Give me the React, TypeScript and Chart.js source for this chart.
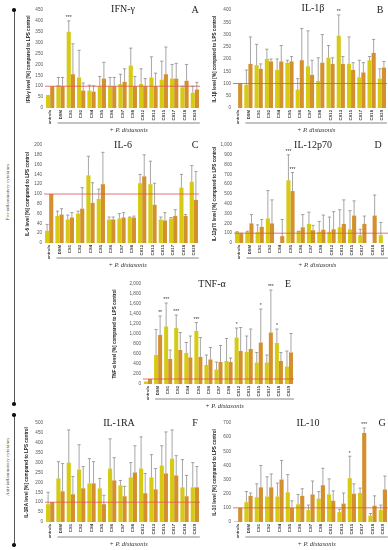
import React, { useEffect, useRef } from 'react';
import { Chart, registerables } from 'chart.js';

Chart.register(...registerables);

const CATEGORIES = ['Controls', 'DSM', 'CS1', 'CS2', 'CS4', 'CS5', 'CS6', 'CS7', 'CS8', 'CS12', 'CS13', 'CS15', 'CS17', 'CS18', 'CS20'];
const GROUP_LABEL = '+ P. distasonis';
const REF_LEVEL = 100;

// A: IFN-γ
const IFN_Y = [60, 105, 350, 140, 80, 100, 100, 110, 195, 110, 140, 130, 135, 95, 70];
const IFN_Y_ERR = [null, 140, 400, 265, 105, 145, 140, 155, 275, 180, 235, 215, 200, 100, 100];
const IFN_O = [100, 100, 155, 80, 75, 135, 100, 120, 100, 100, 100, 155, 135, 125, 85];
const IFN_O_ERR = [null, 140, 295, 115, 102, 210, 140, 180, 145, 135, 160, 280, 205, 200, 118];
const IFN_Y_STARS = ['', '', '***', '', '', '', '', '', '', '', '', '', '', '', ''];
const IFN_O_STARS = ['', '', '', '', '', '', '', '', '', '', '', '', '', '', ''];

// B: IL-1β
const IL1B_Y = [0, 95, 175, 200, 155, 185, 75, 170, 110, 205, 295, 180, 125, 195, 120];
const IL1B_Y_ERR = [null, 155, 260, 240, 200, 195, 120, 315, 205, 255, 380, 290, 195, 210, 160];
const IL1B_O = [100, 180, 160, 190, 190, 190, 195, 135, 185, 180, 180, 155, 145, 225, 165];
const IL1B_O_ERR = [null, 290, 180, 200, 255, 210, 325, 195, 300, 205, 210, 185, 185, 280, 190];
const IL1B_Y_STARS = ['', '', '', '', '', '', '', '', '', '', '**', '', '', '', ''];
const IL1B_O_STARS = ['', '', '', '', '', '', '', '', '', '', '', '', '', '', ''];

// C: IL-6
const IL6_Y = [25, 55, 48, 60, 138, 90, 48, 50, 52, 122, 120, 48, 50, 113, 125];
const IL6_Y_ERR = [38, 65, 57, 65, 177, 110, 53, 60, 53, 140, 167, 53, 52, 140, 158];
const IL6_O = [100, 58, 52, 70, 82, 120, 48, 52, 52, 136, 78, 46, 55, 55, 88];
const IL6_O_ERR = [null, 70, 62, 113, 123, 185, 53, 62, 55, 180, 122, 62, 68, 58, 146];
const IL6_Y_STARS = ['', '', '', '', '', '', '', '', '', '', '', '', '', '', ''];
const IL6_O_STARS = ['', '', '', '', '', '', '', '', '', '', '', '', '', '', ''];

// D: IL-12p70
const IL12_Y = [110, 110, 110, 250, 0, 640, 120, 195, 115, 115, 160, 140, 80, 0, 80];
const IL12_Y_ERR = [115, 120, 185, 535, null, 900, 120, 315, 220, 265, 340, 330, 140, null, 210];
const IL12_O = [95, 200, 165, 200, 70, 530, 160, 130, 135, 140, 195, 280, 195, 280, 0];
const IL12_O_ERR = [100, 290, 240, 440, 240, 720, 290, 180, 285, 320, 440, 430, 275, 490, null];
const IL12_Y_STARS = ['', '', '', '', '', '***', '', '', '', '', '', '', '', '', ''];
const IL12_O_STARS = ['', '', '', '', '', '***', '', '', '', '', '', '', '', '', ''];

// E: TNF-α
const TNF_Y = [50, 580, 1150, 1120, 620, 1060, 380, 290, 460, 930, 640, 430, 430, 820, 350];
const TNF_Y_ERR = [null, 1090, 1620, 1380, 830, 1230, 580, 440, 910, 1120, 960, 630, 580, 1100, 660];
const TNF_O = [100, 980, 500, 680, 530, 540, 490, 440, 440, 660, 700, 830, 1030, 460, 630];
const TNF_O_ERR = [null, 1360, 680, 1030, 960, 930, 730, 770, 520, 1130, 1100, 1500, 1880, 630, 1010];
const TNF_Y_STARS = ['', '', '***', '***', '', '***', '', '', '', '*', '', '', '', '*', ''];
const TNF_O_STARS = ['', '**', '', '', '', '', '', '', '', '', '', '*', '***', '', ''];

// F: IL-1RA
const IL1RA_Y = [90, 220, 300, 265, 195, 170, 270, 185, 225, 270, 225, 285, 320, 175, 175];
const IL1RA_Y_ERR = [150, 305, 465, 390, 320, 220, 420, 210, 300, 430, 340, 385, 465, 315, 300];
const IL1RA_O = [100, 155, 140, 170, 195, 90, 210, 130, 250, 145, 165, 245, 235, 130, 175];
const IL1RA_O_ERR = [null, 295, 230, 280, 305, 135, 325, 180, 385, 245, 270, 455, 335, 235, 280];
const IL1RA_Y_STARS = ['', '', '', '', '', '', '', '', '', '', '', '', '', '', ''];
const IL1RA_O_STARS = ['', '', '', '', '', '', '', '', '', '', '', '', '', '', ''];

// G: IL-10
const IL10_Y = [5, 140, 175, 180, 180, 210, 125, 85, 165, 195, 70, 310, 205, 45, 85];
const IL10_Y_ERR = [null, 215, 270, 320, 275, 335, 195, 120, 215, 305, 90, 465, 240, 60, 120];
const IL10_O = [100, 185, 245, 245, 300, 100, 185, 195, 260, 150, 130, 200, 630, 115, 230];
const IL10_O_ERR = [null, 205, 400, 340, 435, 150, 235, 290, 380, 220, 205, 270, 665, 185, 325];
const IL10_Y_STARS = ['', '', '', '', '', '', '', '', '', '', '', '*', '', '', ''];
const IL10_O_STARS = ['', '', '', '', '', '', '', '', '', '', '', '', '***', '', ''];

const YELLOW = '#d6ca14';
const ORANGE = '#d48f2e';
const ERR_COLOR = '#808080';
const REF_COLOR = '#e05050';
const XH = 16;

type Panel = {
  title: string; letter: string; yTitle: string; max: number; step: number;
  yellow: number[]; yellowErr: (number | null)[]; orange: number[]; orangeErr: (number | null)[];
  yellowStars: string[]; orangeStars: string[];
  box: { left: number; top: number; width: number; height: number };
  area: { left: number; top: number; right: number; bottom: number };
  titleAt: [number, number]; letterAt: [number, number];
};

const PANELS: Panel[] = [
  {
    title: 'IFN-γ', letter: 'A', yTitle: 'IFN-γ level [%] compared to LPS control', max: 450, step: 50,
    yellow: IFN_Y, yellowErr: IFN_Y_ERR, orange: IFN_O, orangeErr: IFN_O_ERR, yellowStars: IFN_Y_STARS, orangeStars: IFN_O_STARS,
    box: { left: 26, top: 0, width: 180, height: 140 }, area: { left: 45, top: 10, right: 200, bottom: 108 },
    titleAt: [123, 9], letterAt: [195, 10],
  },
  {
    title: 'IL-1β', letter: 'B', yTitle: 'IL-1β level [%] compared to LPS control', max: 400, step: 50,
    yellow: IL1B_Y, yellowErr: IL1B_Y_ERR, orange: IL1B_O, orangeErr: IL1B_O_ERR, yellowStars: IL1B_Y_STARS, orangeStars: IL1B_O_STARS,
    box: { left: 212, top: 0, width: 190, height: 140 }, area: { left: 233, top: 10, right: 387, bottom: 108 },
    titleAt: [313, 8], letterAt: [380, 10],
  },
  {
    title: 'IL-6', letter: 'C', yTitle: 'IL-6 level [%] compared to LPS control', max: 200, step: 20,
    yellow: IL6_Y, yellowErr: IL6_Y_ERR, orange: IL6_O, orangeErr: IL6_O_ERR, yellowStars: IL6_Y_STARS, orangeStars: IL6_O_STARS,
    box: { left: 25, top: 135, width: 180, height: 140 }, area: { left: 44, top: 145, right: 199, bottom: 243 },
    titleAt: [123, 145], letterAt: [195, 145],
  },
  {
    title: 'IL-12p70', letter: 'D', yTitle: 'IL-12p70 level [%] compared to LPS control', max: 1000, step: 100,
    yellow: IL12_Y, yellowErr: IL12_Y_ERR, orange: IL12_O, orangeErr: IL12_O_ERR, yellowStars: IL12_Y_STARS, orangeStars: IL12_O_STARS,
    box: { left: 212, top: 135, width: 190, height: 140 }, area: { left: 234, top: 145, right: 388, bottom: 243 },
    titleAt: [313, 145], letterAt: [378, 145],
  },
  {
    title: 'TNF-α', letter: 'E', yTitle: 'TNF-α level [%] compared to LPS control', max: 2000, step: 200,
    yellow: TNF_Y, yellowErr: TNF_Y_ERR, orange: TNF_O, orangeErr: TNF_O_ERR, yellowStars: TNF_Y_STARS, orangeStars: TNF_O_STARS,
    box: { left: 112, top: 274, width: 190, height: 140 }, area: { left: 143, top: 284, right: 294, bottom: 384 },
    titleAt: [212, 284], letterAt: [288, 284],
  },
  {
    title: 'IL-1RA', letter: 'F', yTitle: 'IL-1RA level [%] compared to LPS control', max: 500, step: 50,
    yellow: IL1RA_Y, yellowErr: IL1RA_Y_ERR, orange: IL1RA_O, orangeErr: IL1RA_O_ERR, yellowStars: IL1RA_Y_STARS, orangeStars: IL1RA_O_STARS,
    box: { left: 24, top: 413, width: 182, height: 137 }, area: { left: 45, top: 423, right: 200, bottom: 522 },
    titleAt: [119, 423], letterAt: [195, 423],
  },
  {
    title: 'IL-10', letter: 'G', yTitle: 'IL-10 level [%] compared to LPS control', max: 700, step: 100,
    yellow: IL10_Y, yellowErr: IL10_Y_ERR, orange: IL10_O, orangeErr: IL10_O_ERR, yellowStars: IL10_Y_STARS, orangeStars: IL10_O_STARS,
    box: { left: 212, top: 413, width: 190, height: 137 }, area: { left: 233, top: 423, right: 388, bottom: 522 },
    titleAt: [308, 423], letterAt: [382, 423],
  },
];

function PanelChart({ p }: { p: Panel }) {
  const ref = useRef<HTMLCanvasElement | null>(null);
  useEffect(() => {
    if (!ref.current) return;
    const { box, area } = p;
    const decor = {
      id: 'decor',
      afterDatasetsDraw(chart: any) {
        const { ctx, chartArea, scales } = chart;
        const y = scales.y;
        ctx.save();
        const y100 = y.getPixelForValue(REF_LEVEL);
        ctx.strokeStyle = REF_COLOR;
        ctx.lineWidth = 0.8;
        ctx.beginPath();
        ctx.moveTo(chartArea.left, y100);
        ctx.lineTo(chartArea.right, y100);
        ctx.stroke();
        const sets: [number[], (number | null)[], string[]][] = [
          [p.yellow, p.yellowErr, p.yellowStars],
          [p.orange, p.orangeErr, p.orangeStars],
        ];
        sets.forEach(([vals, errs, stars], di) => {
          const meta = chart.getDatasetMeta(di);
          meta.data.forEach((bar: any, i: number) => {
            const e = errs[i];
            const bx = bar.x;
            if (e != null) {
              const yv = y.getPixelForValue(vals[i]);
              const ye = y.getPixelForValue(e);
              ctx.strokeStyle = ERR_COLOR;
              ctx.lineWidth = 0.7;
              ctx.beginPath();
              ctx.moveTo(bx, yv);
              ctx.lineTo(bx, ye);
              ctx.moveTo(bx - 1.6, ye);
              ctx.lineTo(bx + 1.6, ye);
              ctx.stroke();
            }
            if (stars[i]) {
              ctx.fillStyle = '#333';
              ctx.font = '5px "Liberation Sans"';
              ctx.textAlign = 'center';
              ctx.textBaseline = 'bottom';
              ctx.fillText(stars[i], bx, y.getPixelForValue(e != null ? e : vals[i]) - 0.5);
            }
          });
        });
        ctx.restore();
      },
      afterDraw(chart: any) {
        const { ctx, chartArea, scales } = chart;
        const x = scales.x;
        ctx.save();
        ctx.fillStyle = '#222';
        ctx.font = '10px "Liberation Serif"';
        ctx.textAlign = 'center';
        ctx.textBaseline = 'middle';
        ctx.fillText(p.title, p.titleAt[0] - box.left, p.titleAt[1] - box.top);
        ctx.fillText(p.letter, p.letterAt[0] - box.left, p.letterAt[1] - box.top);
        const x1 = x.getPixelForValue(1) - 3;
        const x2 = x.getPixelForValue(CATEGORIES.length - 1) + 5;
        const by = chartArea.bottom + 15;
        ctx.strokeStyle = '#555';
        ctx.lineWidth = 0.7;
        ctx.beginPath();
        ctx.moveTo(x1, by);
        ctx.lineTo(x2, by);
        ctx.stroke();
        ctx.fillStyle = '#333';
        ctx.font = 'italic 6.5px "Liberation Serif"';
        ctx.fillText(GROUP_LABEL, (x1 + x2) / 2, chartArea.bottom + 22.5);
        ctx.restore();
      },
    };
    const chart = new Chart(ref.current, {
      type: 'bar',
      data: {
        labels: CATEGORIES,
        datasets: [
          { data: p.yellow, backgroundColor: YELLOW, borderWidth: 0, categoryPercentage: 0.8, barPercentage: 1 },
          { data: p.orange, backgroundColor: ORANGE, borderWidth: 0, categoryPercentage: 0.8, barPercentage: 1 },
        ],
      },
      options: {
        responsive: false,
        maintainAspectRatio: false,
        animation: false,
        devicePixelRatio: 1,
        layout: {
          padding: {
            left: 0,
            top: area.top - box.top,
            right: box.left + box.width - area.right,
            bottom: box.top + box.height - area.bottom - XH,
          },
        },
        plugins: { legend: { display: false }, tooltip: { enabled: false }, title: { display: false } },
        scales: {
          x: {
            grid: { display: false, drawTicks: false },
            border: { display: false },
            ticks: {
              autoSkip: false, minRotation: 90, maxRotation: 90, padding: 2,
              font: { size: 4.2, family: '"Liberation Sans"', weight: 'bold' }, color: '#333',
            },
            afterFit: (s: any) => { s.height = XH; },
          },
          y: {
            min: 0, max: p.max,
            grid: { display: false, drawTicks: false },
            border: { display: false },
            ticks: { stepSize: p.step, padding: 2, autoSkip: false, font: { size: 4.6, family: '"Liberation Sans"' }, color: '#555' },
            title: {
              display: true, text: p.yTitle, padding: 0,
              font: { size: 4.6, family: '"Liberation Sans"', weight: 'bold' }, color: '#222',
            },
            afterFit: (s: any) => { s.width = area.left - box.left; },
          },
        },
      } as any,
      plugins: [decor],
    });
    return () => chart.destroy();
  }, [p]);
  return (
    <canvas
      ref={ref}
      width={p.box.width}
      height={p.box.height}
      style={{ position: 'absolute', left: p.box.left, top: p.box.top, width: p.box.width, height: p.box.height }}
    />
  );
}

const dot = (x: number, y: number) => (
  <div style={{ position: 'absolute', left: x - 1.8, top: y - 1.8, width: 3.6, height: 3.6, borderRadius: '50%', background: '#111' }} />
);

const sideText = (text: string, cx: number, cy: number) => (
  <div
    style={{
      position: 'absolute', left: cx, top: cy, transform: 'translate(-50%, -50%) rotate(-90deg)',
      whiteSpace: 'nowrap', fontFamily: '"Liberation Serif"', fontSize: 5, color: '#444', lineHeight: 1,
    }}
  >
    {text}
  </div>
);

export default function App() {
  return (
    <div style={{ position: 'absolute', left: 0, top: 0, width: 388, height: 550, overflow: 'hidden', background: '#fff' }}>
      <div style={{ position: 'absolute', left: 13.5, top: 10, width: 1, height: 394, background: '#555' }} />
      <div style={{ position: 'absolute', left: 13.5, top: 415, width: 1, height: 130, background: '#555' }} />
      {dot(14, 10)}
      {dot(14, 404)}
      {dot(14, 415)}
      {dot(14, 545)}
      {sideText('Pro-inflammatory cytokines', 7, 192)}
      {sideText('Anti-inflammatory cytokines', 7, 467)}
      {PANELS.map((p) => <PanelChart key={p.letter} p={p} />)}
    </div>
  );
}
